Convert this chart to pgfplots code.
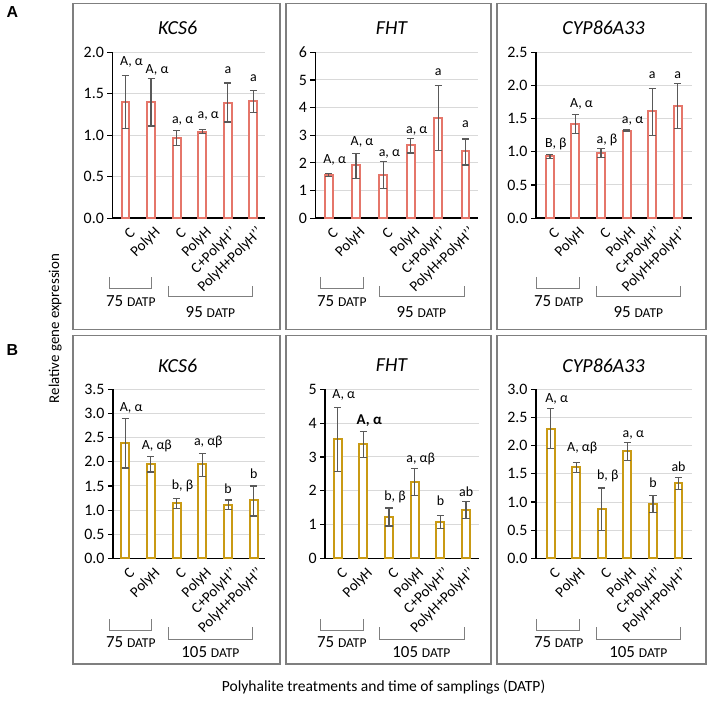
\documentclass[border=0pt]{standalone}
\usepackage{fontspec}
\setmainfont{Carlito}
\newfontfamily\arial{Liberation Sans}
\usepackage{pgfplots}
\pgfplotsset{compat=1.18}
\definecolor{redbar}{HTML}{E5766A}
\definecolor{goldbar}{HTML}{C99A14}
\definecolor{errc}{HTML}{595959}
\definecolor{gridc}{HTML}{D9D9D9}
\definecolor{framec}{HTML}{7F7F7F}

\pgfplotsset{
  panel/.style={
    scale only axis, anchor=south west, clip=false,
    axis lines*=left,
    axis line style={black, line width=0.7pt},
    ymin=0, enlargelimits=false,
    ymajorgrids, grid style={gridc, line width=0.5pt},
    xtick={0,...,5},
    xticklabels={C,PolyH,C,PolyH,C+PolyH{'}{'},PolyH+PolyH{'}{'}},
    major x tick style={draw=none},
    major y tick style={black, line width=0.6pt},
    tick align=outside, major tick length=2.5pt,
    yticklabel style={font=\fontsize{8}{9}\selectfont, /pgf/number format/assume math mode=true, inner sep=1.5pt},
    xticklabel style={font=\fontsize{7.5}{8}\selectfont, rotate=45, anchor=east, inner sep=0.5pt, yshift=-5pt, xshift=0.5pt},
    ybar, bar width=4pt,
    error bars/y dir=both, error bars/y explicit,
    error bars/error bar style={errc, line width=0.6pt},
    error bars/error mark options={rotate=90, errc, mark size=1.8pt, line width=0.6pt},
  },
  dec/.style={yticklabel style={/pgf/number format/.cd, fixed, fixed zerofill, precision=1}},
}
\tikzset{
  lab/.style={font=\fontsize{7}{8}\selectfont, anchor=base, inner sep=0pt, xshift=3pt},
  labn/.style={font=\fontsize{7}{8}\selectfont, anchor=base, inner sep=0pt},
}

\pgfplotstableread{
x y ep em
0 1.40 0.32 0.32
1 1.40 0.28 0.29
2 0.97 0.09 0.09
3 1.04 0.03 0.02
4 1.39 0.24 0.23
5 1.41 0.13 0.14
}\dataAa
\pgfplotstableread{
x y ep em
0 1.57 0.05 0.05
1 1.91 0.43 0.47
2 1.55 0.49 0.49
3 2.65 0.24 0.29
4 3.64 1.16 1.18
5 2.42 0.44 0.50
}\dataAb
\pgfplotstableread{
x y ep em
0 0.93 0.025 0.03
1 1.42 0.145 0.145
2 0.975 0.07 0.06
3 1.32 0.01 0.01
4 1.61 0.35 0.37
5 1.695 0.335 0.34
}\dataAc
\pgfplotstableread{
x y ep em
0 2.38 0.52 0.51
1 1.96 0.15 0.17
2 1.14 0.10 0.11
3 1.96 0.21 0.26
4 1.11 0.10 0.10
5 1.21 0.29 0.33
}\dataBa
\pgfplotstableread{
x y ep em
0 3.54 0.93 0.98
1 3.38 0.38 0.40
2 1.24 0.25 0.28
3 2.26 0.40 0.40
4 1.07 0.20 0.19
5 1.44 0.24 0.25
}\dataBb
\pgfplotstableread{
x y ep em
0 2.30 0.36 0.35
1 1.62 0.08 0.09
2 0.87 0.38 0.38
3 1.90 0.16 0.16
4 0.97 0.14 0.16
5 1.33 0.11 0.11
}\dataBc

\begin{document}
\begin{tikzpicture}
\begin{scope}[x=0.5pt,y=-0.5pt]
  \path (0,0) rectangle (708,704);
  \draw[framec, line width=0.6pt] (70,3) rectangle (278,331);
  \draw[framec, line width=0.6pt] (284,3) rectangle (490,331);
  \draw[framec, line width=0.6pt] (496,3) rectangle (706,331);
  \draw[framec, line width=0.6pt] (70,337) rectangle (278,667);
  \draw[framec, line width=0.6pt] (284,337) rectangle (490,667);
  \draw[framec, line width=0.6pt] (496,337) rectangle (706,667);
  % panel letters
  \node[font=\arial\bfseries\fontsize{8}{9}\selectfont] at (9,12) {A};
  \node[font=\arial\bfseries\fontsize{8}{9}\selectfont] at (9,352) {B};
  % titles
  \foreach \xx/\tt in {175/KCS6, 390/FHT, 603/CYP86A33}{
    \node[font=\fontsize{10}{11}\selectfont\itshape] at (\xx,28) {\tt};
    \node[font=\fontsize{10}{11}\selectfont\itshape] at (\xx,367) {\tt};
  }
  % brackets
  \foreach \la/\ra/\lb/\rb/\ca/\cb in {107/149/166/250/128/208, 319/362/378/463/340/420, 536/579/596/680/558/638}{
    \draw[framec, line width=0.5pt] (\la,278) -- (\la,290) -- (\ra,290) -- (\ra,278);
    \draw[framec, line width=0.5pt] (\lb,287) -- (\lb,298) -- (\rb,298) -- (\rb,287);
    \node at (\ca,302) {\fontsize{8.5}{9}\selectfont 75 \fontsize{6.8}{7}\selectfont DATP};
    \node at (\cb,313) {\fontsize{8.5}{9}\selectfont 95 \fontsize{6.8}{7}\selectfont DATP};
    \draw[framec, line width=0.5pt] (\la,622) -- (\la,633) -- (\ra,633) -- (\ra,622);
    \draw[framec, line width=0.5pt] (\lb,630) -- (\lb,642) -- (\rb,642) -- (\rb,630);
    \node at (\ca,645) {\fontsize{8.5}{9}\selectfont 75 \fontsize{6.8}{7}\selectfont DATP};
    \node at (\cb,655) {\fontsize{8.5}{9}\selectfont 105 \fontsize{6.8}{7}\selectfont DATP};
  }
  \node[rotate=90, font=\fontsize{7.5}{8}\selectfont] at (52,330) {Relative gene expression};
  \node[font=\fontsize{7.8}{8}\selectfont] at (382,690) {Polyhalite treatments and time of samplings (DATP)};
\end{scope}

% ---------- Row A ----------
\begin{axis}[panel, dec, at={(54.65pt,-109.5pt)}, width=77pt, height=83.3pt,
  xmin=-0.52, xmax=5.47, ymax=2, ytick={0,0.5,...,2.0}]
  \addplot[draw=redbar, fill=white, line width=1pt] table[x=x,y=y,y error plus=ep,y error minus=em] {\dataAa};
  \node[lab] at (axis cs:0,1.84) {A, α};
  \node[lab] at (axis cs:1,1.75) {A, α};
  \node[lab] at (axis cs:2,1.14) {a, α};
  \node[lab] at (axis cs:3,1.20) {a, α};
  \node[labn] at (axis cs:4,1.75) {a};
  \node[labn] at (axis cs:5,1.65) {a};
\end{axis}

\begin{axis}[panel, at={(156.65pt,-109.5pt)}, width=81.7pt, height=83.3pt,
  xmin=-0.49, xmax=5.45, ymax=6, ytick={0,1,...,6}]
  \addplot[draw=redbar, fill=white, line width=1pt] table[x=x,y=y,y error plus=ep,y error minus=em] {\dataAb};
  \node[lab] at (axis cs:0,1.96) {A, α};
  \node[lab] at (axis cs:1,2.64) {A, α};
  \node[lab] at (axis cs:2,2.22) {a, α};
  \node[lab] at (axis cs:3,3.06) {a, α};
  \node[labn] at (axis cs:4,5.16) {a};
  \node[labn] at (axis cs:5,3.28) {a};
\end{axis}

\begin{axis}[panel, dec, at={(267.5pt,-109.5pt)}, width=78.35pt, height=83.3pt,
  xmin=-0.55, xmax=5.55, ymax=2.5, ytick={0,0.5,...,2.5}]
  \addplot[draw=redbar, fill=white, line width=1pt] table[x=x,y=y,y error plus=ep,y error minus=em] {\dataAc};
  \node[lab] at (axis cs:0,1.065) {B, β};
  \node[lab] at (axis cs:1,1.675) {A, α};
  \node[lab] at (axis cs:2,1.125) {a, β};
  \node[lab] at (axis cs:3,1.425) {a, α};
  \node[labn] at (axis cs:4,2.11) {a};
  \node[labn] at (axis cs:5,2.11) {a};
\end{axis}

% ---------- Row B ----------
\begin{axis}[panel, dec, at={(55pt,-280.5pt)}, width=76.65pt, height=85pt,
  xmin=-0.475, xmax=5.45, ymax=3.5, ytick={0,0.5,...,3.5}]
  \addplot[draw=goldbar, fill=white, line width=1pt] table[x=x,y=y,y error plus=ep,y error minus=em] {\dataBa};
  \node[lab] at (axis cs:0,3.05) {A, α};
  \node[lab] at (axis cs:1,2.26) {A, αβ};
  \node[lab] at (axis cs:2,1.42) {b, β};
  \node[lab] at (axis cs:3,2.33) {a, αβ};
  \node[labn] at (axis cs:4,1.34) {b};
  \node[labn] at (axis cs:5,1.65) {b};
\end{axis}

\begin{axis}[panel, at={(161.65pt,-280.5pt)}, width=77.5pt, height=85pt,
  xmin=-0.49, xmax=5.52, ymax=5, ytick={0,1,...,5}]
  \addplot[draw=goldbar, fill=white, line width=1pt] table[x=x,y=y,y error plus=ep,y error minus=em] {\dataBb};
  \node[lab] at (axis cs:0,4.74) {A, α};
  \node[lab, font=\fontsize{7.5}{8}\selectfont\bfseries] at (axis cs:1,3.96) {A, α};
  \node[lab] at (axis cs:2,1.71) {b, β};
  \node[lab] at (axis cs:3,2.83) {a, αβ};
  \node[labn] at (axis cs:4,1.56) {b};
  \node[labn] at (axis cs:5,1.83) {ab};
\end{axis}

\begin{axis}[panel, dec, at={(267.5pt,-280.5pt)}, width=78.35pt, height=85pt,
  xmin=-0.58, xmax=5.52, ymax=3, ytick={0,0.5,...,3.0}]
  \addplot[draw=goldbar, fill=white, line width=1pt] table[x=x,y=y,y error plus=ep,y error minus=em] {\dataBc};
  \node[lab] at (axis cs:0,2.76) {A, α};
  \node[lab] at (axis cs:1,1.89) {A, αβ};
  \node[lab] at (axis cs:2,1.40) {b, β};
  \node[lab] at (axis cs:3,2.14) {a, α};
  \node[labn] at (axis cs:4,1.25) {b};
  \node[labn] at (axis cs:5,1.545) {ab};
\end{axis}
\end{tikzpicture}
\end{document}
